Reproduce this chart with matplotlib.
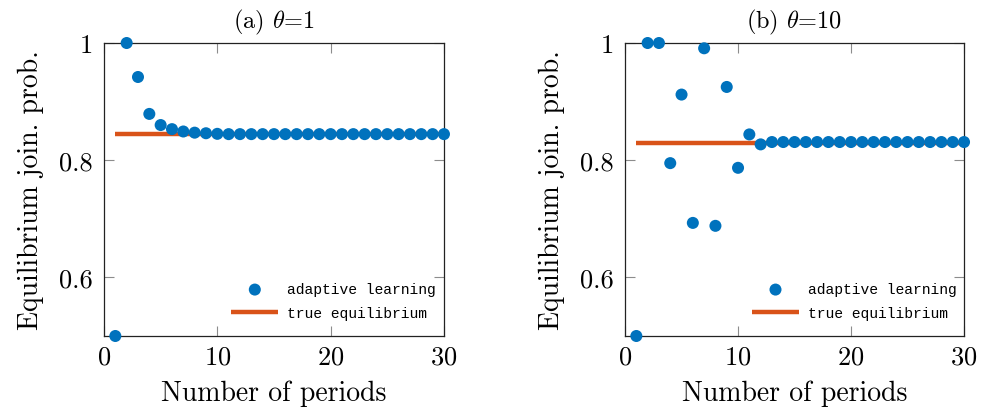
import matplotlib
matplotlib.use("Agg")
import matplotlib.pyplot as plt
from matplotlib.ticker import FixedLocator, FixedFormatter

plt.rcParams['font.family'] = 'serif'
plt.rcParams['font.serif'] = ['cmr10', 'DejaVu Serif']
plt.rcParams['mathtext.fontset'] = 'cm'
plt.rcParams['axes.formatter.use_mathtext'] = True

BLUE = '#0072BD'
ORANGE = '#D95319'

periods = list(range(1, 31))

learn_a = [0.5, 1.0, 0.942, 0.879, 0.860, 0.853, 0.849, 0.847, 0.846, 0.845] + [0.8445] * 20
eq_a = 0.844

learn_b = [0.5, 1.0, 1.0, 0.795, 0.912, 0.693, 0.991, 0.688, 0.925, 0.787,
           0.844, 0.827] + [0.831] * 18
eq_b = 0.830

titles = [r'(a) $\theta$=1', r'(b) $\theta$=10']
yticks = [0.6, 0.8, 1.0]
ytick_labels = ['0.6', '0.8', '1']

fig = plt.figure(figsize=(9.82, 4.14), dpi=100)
positions = [[0.1059, 0.186, 0.3462, 0.7077], [0.6365, 0.186, 0.3452, 0.7077]]

for pos, learn, eq, title in zip(positions, [learn_a, learn_b], [eq_a, eq_b], titles):
    ax = fig.add_axes(pos)
    ax.plot([periods[0], periods[-1]], [eq, eq], color=ORANGE, lw=3.2,
            label='true equilibrium', zorder=2, solid_capstyle='butt')
    ax.scatter(periods, learn, s=75, color=BLUE, edgecolors='none',
               label='adaptive learning', zorder=3, clip_on=False)
    ax.set_xlim(0, 30)
    ax.set_ylim(0.5, 1.0)
    ax.set_xticks([0, 10, 20, 30])
    ax.yaxis.set_major_locator(FixedLocator(yticks))
    ax.yaxis.set_major_formatter(FixedFormatter(ytick_labels))
    ax.tick_params(direction='in', length=7, width=0.8, color='#8c8c8c',
                   top=True, right=True, labelsize=19)
    ax.tick_params(axis='y', pad=8)
    ax.tick_params(axis='x', pad=6)
    for sp in ax.spines.values():
        sp.set_linewidth(0.9)
        sp.set_color('#222222')
    ax.set_xlabel('Number of periods', fontsize=20, labelpad=8)
    ax.set_ylabel('Equilibrium join. prob.', fontsize=20, labelpad=11)
    ax.set_title(title, fontsize=17.5, pad=11)
    handles, labels = ax.get_legend_handles_labels()
    # spaced-out legend text like the original
    ax.legend(handles[::-1], labels[::-1], loc='lower left',
              bbox_to_anchor=(0.375, 0.055), frameon=False,
              prop={'family': 'Liberation Mono', 'size': 10.5},
              handlelength=3.2, handletextpad=0.6, labelspacing=0.65,
              borderaxespad=0.0, borderpad=0.0)

fig.savefig('out.png', dpi=100)
